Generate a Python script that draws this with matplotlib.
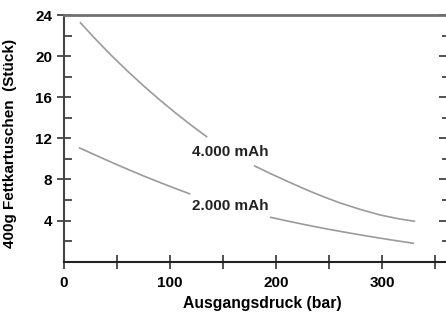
import matplotlib
matplotlib.use("Agg")
import matplotlib.pyplot as plt
from matplotlib.ticker import MultipleLocator, FixedLocator

plt.rcParams['font.family'] = ['Liberation Sans', 'DejaVu Sans']

# Data (two segments per curve, gap at the label)
x_4000_a = [15, 30, 45, 60, 75, 90, 105, 120, 135]
y_4000_a = [23.3, 21.62, 20.03, 18.53, 17.11, 15.76, 14.48, 13.27, 12.12]
x_4000_b = [179, 195, 212, 229, 245, 260, 280, 298, 315, 331]
y_4000_b = [9.35, 8.55, 7.75, 6.97, 6.3, 5.72, 5.06, 4.54, 4.18, 3.92]

x_2000_a = [14, 30, 45, 60, 75, 90, 105, 119]
y_2000_a = [11.1, 10.35, 9.66, 8.99, 8.34, 7.72, 7.12, 6.58]
x_2000_b = [194, 210, 230, 250, 270, 290, 310, 330]
y_2000_b = [4.33, 3.97, 3.54, 3.14, 2.77, 2.42, 2.09, 1.78]

label_4000 = "4.000 mAh"
label_2000 = "2.000 mAh"
label_pos_4000 = (157, 10.7)
label_pos_2000 = (157, 5.4)

x_ticks = [0, 100, 200, 300]
y_ticks = [4, 8, 12, 16, 20, 24]

fig = plt.figure(figsize=(4.46, 3.13), dpi=100)
ax = fig.add_axes([0.1435, 0.164, 1.0 - 0.1435, 0.952 - 0.164])

line_kw = dict(color='#9a9a9a', lw=1.2, solid_capstyle='butt')
ax.plot(x_4000_a, y_4000_a, **line_kw)
ax.plot(x_4000_b, y_4000_b, **line_kw)
ax.plot(x_2000_a, y_2000_a, **line_kw)
ax.plot(x_2000_b, y_2000_b, **line_kw)

ax.text(*label_pos_4000, label_4000, ha='center', va='center',
        fontsize=11, fontweight='bold', color='#222222')
ax.text(*label_pos_2000, label_2000, ha='center', va='center',
        fontsize=11, fontweight='bold', color='#222222')

ax.set_xlim(0, 360)
ax.set_ylim(0, 24)

ax.xaxis.set_major_locator(FixedLocator(x_ticks))
ax.xaxis.set_minor_locator(MultipleLocator(50))
ax.yaxis.set_major_locator(FixedLocator(y_ticks))
ax.yaxis.set_minor_locator(MultipleLocator(2))

ax.tick_params(axis='x', which='both', direction='inout', length=10,
               width=1.2, color='#333333', labelsize=11, pad=5)
ax.tick_params(axis='y', which='major', direction='inout', length=10,
               width=1.2, color='#333333', labelsize=11, pad=3.5)
ax.tick_params(axis='y', which='minor', direction='in', length=6,
               width=1.2, color='#333333')
for lab in ax.get_xticklabels() + ax.get_yticklabels():
    lab.set_fontweight('bold')

ax.spines['right'].set_visible(False)
ax.spines['top'].set_color('#707070')
ax.spines['top'].set_linewidth(2.0)
ax.spines['left'].set_color('#444444')
ax.spines['left'].set_linewidth(1.5)
ax.spines['bottom'].set_color('#222222')
ax.spines['bottom'].set_linewidth(1.5)

sec = ax.secondary_yaxis('right')
sec.set_yticks(y_ticks)
sec.yaxis.set_minor_locator(MultipleLocator(2))
sec.tick_params(axis='y', which='major', direction='in', length=5,
                width=1.2, color='#333333', labelright=False)
sec.tick_params(axis='y', which='minor', direction='in', length=3,
                width=1.2, color='#333333', labelright=False)
sec.spines['right'].set_visible(False)

ax.set_xlabel("Ausgangsdruck (bar)", fontsize=11.3, fontweight='bold')
ax.xaxis.set_label_coords(0.52, -0.14)
ax.set_ylabel("400g Fettkartuschen  (Stück)", fontsize=11,
              fontweight='bold')
ax.yaxis.set_label_coords(-0.122, 0.48)

fig.savefig("out.png", dpi=100)
